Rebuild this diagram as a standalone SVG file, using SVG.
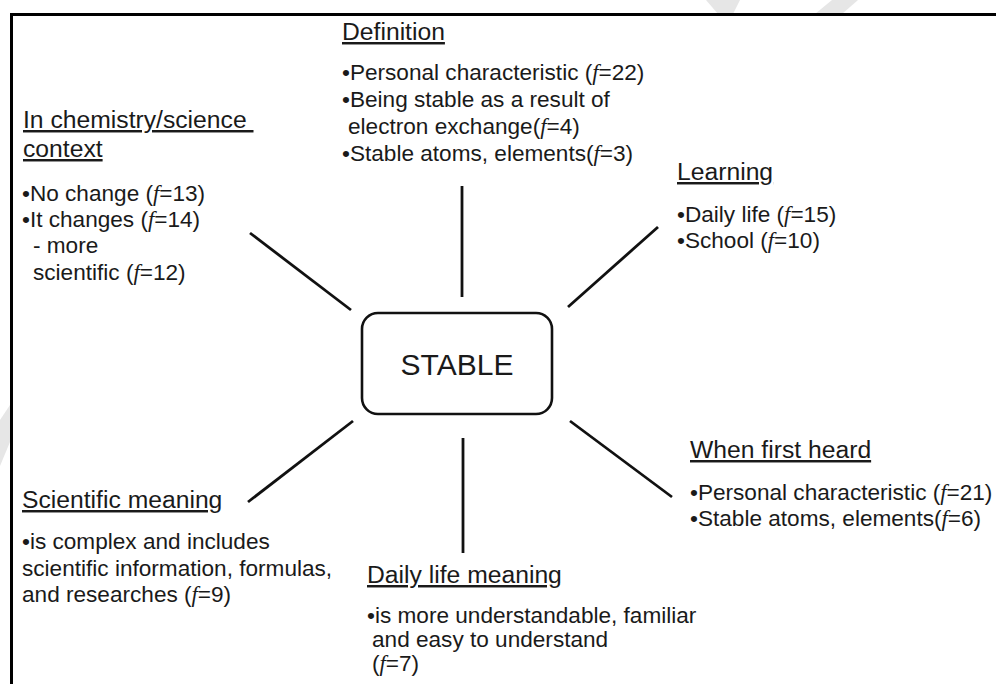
<svg xmlns="http://www.w3.org/2000/svg" width="996" height="684" viewBox="0 0 996 684">
<style>
  text { font-family: "Liberation Sans", Arial, sans-serif; fill: #1a1a1a; }
  .h { font-size: 24.7px; text-decoration: underline; white-space: pre; }
  .b { font-size: 22.6px; white-space: pre; }
  .f { font-family: "Liberation Serif", "Times New Roman", serif; font-style: italic; }
  .conn line { stroke: #111; stroke-width: 2.8; stroke-linecap: butt; }
  .frame { stroke: #000; stroke-width: 3; fill: none; }
  .wm { fill: #e6e6e6; }
</style>
<rect width="996" height="684" fill="#ffffff"/>
<g id="watermark">
  <polygon class="wm" points="706,0 740,0 733,14 718,14"/>
  <polygon class="wm" points="832,0 858,0 842,14 815,14"/>
  <polygon class="wm" points="10,405 10,442 0,466 0,420"/>
</g>
<g id="frame">
  <line class="frame" x1="10" y1="14.5" x2="996" y2="14.5"/>
  <line class="frame" x1="11.5" y1="13" x2="11.5" y2="684"/>
</g>
<g class="conn" id="connectors">
  <line x1="462" y1="186" x2="462" y2="297"/>
  <line x1="463" y1="438" x2="463" y2="553"/>
  <line x1="250" y1="233" x2="351" y2="310"/>
  <line x1="353" y1="421" x2="248" y2="502"/>
  <line x1="658" y1="227" x2="568" y2="307"/>
  <line x1="570" y1="421" x2="672" y2="497"/>
</g>
<g id="stable">
  <rect x="362" y="313" width="190" height="101" rx="16" ry="16" fill="#fff" stroke="#111" stroke-width="2.6"/>
  <text x="457" y="375" font-size="30" text-anchor="middle">STABLE</text>
</g>
<g id="definition">
  <text class="h" x="342" y="40">Definition</text>
  <text class="b" x="342" y="80">•Personal characteristic (<tspan class="f">f</tspan>=22)</text>
  <text class="b" x="342" y="107">•Being stable as a result of</text>
  <text class="b" x="348" y="134">electron exchange(<tspan class="f">f</tspan>=4)</text>
  <text class="b" x="342" y="161">•Stable atoms, elements(<tspan class="f">f</tspan>=3)</text>
</g>
<g id="chemistry">
  <text class="h" x="23" y="128">In chemistry/science </text>
  <text class="h" x="23" y="157">context</text>
  <text class="b" x="22" y="201">•No change (<tspan class="f">f</tspan>=13)</text>
  <text class="b" x="22" y="227">•It changes (<tspan class="f">f</tspan>=14)</text>
  <text class="b" x="33" y="253">- more</text>
  <text class="b" x="33" y="280">scientific (<tspan class="f">f</tspan>=12)</text>
</g>
<g id="learning">
  <text class="h" x="677" y="180">Learning</text>
  <text class="b" x="677" y="222">•Daily life (<tspan class="f">f</tspan>=15)</text>
  <text class="b" x="677" y="248">•School (<tspan class="f">f</tspan>=10)</text>
</g>
<g id="first-heard">
  <text class="h" x="690" y="458">When first heard</text>
  <text class="b" x="690" y="500">•Personal characteristic (<tspan class="f">f</tspan>=21)</text>
  <text class="b" x="690" y="526">•Stable atoms, elements(<tspan class="f">f</tspan>=6)</text>
</g>
<g id="scientific">
  <text class="h" x="22" y="508">Scientific meaning</text>
  <text class="b" x="22" y="549">•is complex and includes</text>
  <text class="b" x="22" y="576">scientific information, formulas,</text>
  <text class="b" x="22" y="602">and researches (<tspan class="f">f</tspan>=9)</text>
</g>
<g id="daily-life">
  <text class="h" x="367" y="583">Daily life meaning</text>
  <text class="b" x="367" y="623">•is more understandable, familiar</text>
  <text class="b" x="372" y="647">and easy to understand</text>
  <text class="b" x="372" y="671">(<tspan class="f">f</tspan>=7)</text>
</g>
</svg>
